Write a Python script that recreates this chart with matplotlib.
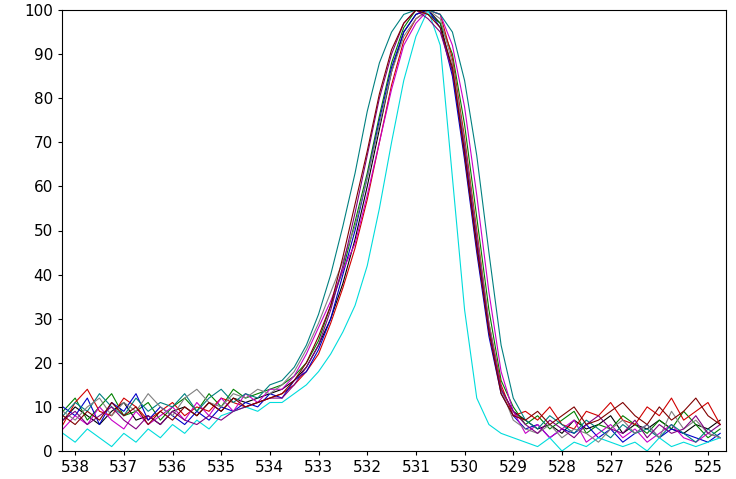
import numpy as np
import matplotlib
matplotlib.use("Agg")
import matplotlib.pyplot as plt

x = np.arange(538.25, 524.7, -0.25)

series = {
 "black":   [7,10,8,6,9,11,7,8,6,9,10,8,11,9,12,11,12,13,14,16, 19,24,30,38,48,60,73,86,95,99,100,97,86,68,47,28,14,9, 7,5,6,4,7,5,6,8,4,6,5,7,5,4,6,5,7],
 "green":   [9,12,7,10,13,8,9,11,7,10,12,9,13,10,14,12,13,14,15,17, 20,25,33,41,52,63,76,88,96,100,99,97,90,74,53,32,16,10, 6,8,5,7,9,4,6,5,8,6,4,7,5,9,6,3,5],
 "red":     [6,11,14,9,8,12,10,7,9,11,8,10,9,12,11,10,11,12,13,15, 18,22,29,37,46,57,70,83,93,98,100,99,89,71,50,29,15,8, 9,7,10,6,5,9,8,11,7,6,10,8,12,7,9,11,6],
 "blue":    [10,8,12,6,11,9,13,7,10,8,6,9,7,10,9,11,10,13,12,16, 18,23,30,40,50,62,75,87,95,99,100,96,85,66,45,26,13,8, 5,6,3,5,4,6,3,5,2,4,6,3,5,4,3,2,4],
 "magenta": [5,8,6,10,7,5,9,6,8,10,7,11,8,12,9,13,11,14,14,17, 22,28,34,41,47,58,70,82,92,97,100,99,92,78,58,36,18,9, 4,6,3,5,7,2,4,6,3,5,2,4,6,3,2,4,3],
 "teal":    [8,11,9,13,10,8,12,9,11,10,13,9,12,14,11,13,12,15,16,19, 24,31,40,51,63,77,88,95,99,100,100,99,95,84,67,45,24,12, 7,5,8,6,4,7,5,3,6,4,5,3,6,4,2,5,3],
 "cyan":    [4,2,5,3,1,4,2,5,3,6,4,7,5,8,9,10,9,11,11,13, 15,18,22,27,33,42,55,70,84,94,100,92,62,32,12,6,4,3, 2,1,3,0,2,1,3,2,1,2,0,3,1,2,1,2,3],
 "gray":    [9,7,10,12,8,11,9,13,10,8,12,14,11,10,13,12,14,13,15,18, 23,29,36,43,51,62,74,86,94,98,100,98,88,70,49,29,14,7, 5,4,6,3,5,4,2,5,7,4,6,3,9,5,7,4,3],
 "purple":  [7,9,6,8,10,7,5,8,6,9,7,6,8,7,9,10,11,12,12,15, 19,24,32,42,54,67,80,90,97,100,98,95,86,69,48,28,14,9, 6,4,7,5,3,6,8,5,4,7,3,6,4,5,8,4,6],
 "darkred": [8,6,9,7,11,8,10,6,9,7,10,8,11,9,12,10,11,12,13,16, 20,26,33,44,56,68,81,91,97,100,99,96,87,67,46,27,13,8, 7,9,6,8,10,6,7,9,11,8,6,10,7,9,12,8,6],
}
colors = {"black":"#000000","green":"#008000","red":"#d00000","blue":"#0000c8",
          "magenta":"#c800c8","teal":"#008080","cyan":"#00dcdc","gray":"#808080",
          "purple":"#800080","darkred":"#800000"}
xticks = [538,537,536,535,534,533,532,531,530,529,528,527,526,525]
yticks = [0,10,20,30,40,50,60,70,80,90,100]

fig = plt.figure(figsize=(7.36,4.79), dpi=100)
ax = fig.add_axes([62/736, 28/479, 664/736, 441/479])
for k, y in series.items():
    ax.plot(x[:len(y)], y, color=colors[k], lw=0.8)
ax.set_xlim(538.27, 524.63)
ax.set_ylim(0, 100)
ax.set_xticks(xticks)
ax.set_yticks(yticks)
ax.tick_params(labelsize=11, length=3)
fig.savefig("out.png", dpi=100)
